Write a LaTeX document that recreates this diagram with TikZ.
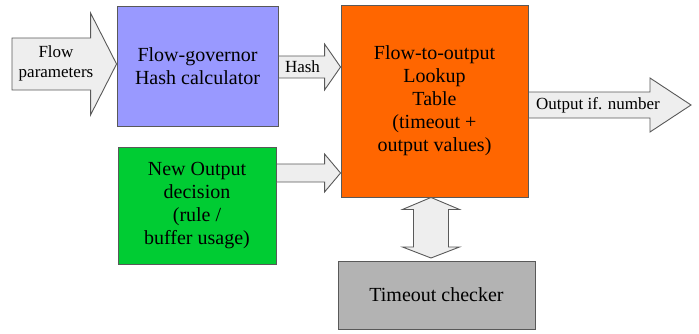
\documentclass[tikz,border=0pt]{standalone}
\usepackage{fontspec}
\setmainfont{Liberation Serif}
\usetikzlibrary{calc}
\definecolor{cblue}{HTML}{9999FF}
\definecolor{corange}{HTML}{FF6600}
\definecolor{cgreen}{HTML}{00CC33}
\definecolor{cgray}{HTML}{B3B3B3}
\definecolor{carrow}{HTML}{EEEEEE}
\definecolor{cline}{HTML}{595959}
\tikzset{
  blockbox/.style={draw=cline, line width=0.9pt, align=center, inner sep=0pt,
    font=\fontsize{20}{23}\selectfont},
  barrow/.style={draw=cline, line width=0.9pt, fill=carrow, line join=miter},
  alabel/.style={font=\fontsize{17}{20}\selectfont, align=center, inner sep=0pt}
}
\begin{document}
\begin{tikzpicture}[x=1pt,y=1pt]
\useasboundingbox (0,0) rectangle (699,333);
% boxes (image y flipped: Y = 333 - y)
\node[blockbox, fill=cblue, minimum width=161pt, minimum height=120pt] (blue) at (197.5,267) {Flow-governor\\Hash calculator};
\node[blockbox, fill=corange, minimum width=187pt, minimum height=192pt] (orange) at (434.5,232) {Flow-to-output\\Lookup\\Table\\(timeout +\\output values)};
\node[blockbox, fill=cgreen, minimum width=158pt, minimum height=117pt] (green) at (197,127.5) {New Output\\decision\\(rule /\\buffer usage)};
\node[blockbox, fill=cgray, minimum width=197pt, minimum height=68pt] (gray) at (436.5,38) {Timeout checker};
% flow parameters arrow
\coordinate (fp0) at (12,269);
\path (blue.west |- fp0) coordinate (fp1);
\draw[barrow] ($(fp0)+(0,26)$) -- ($(fp1)+(-26,26)$) -- ($(fp1)+(-26,51)$) -- (fp1)
  -- ($(fp1)+(-26,-51)$) -- ($(fp1)+(-26,-26)$) -- ($(fp0)+(0,-26)$) -- cycle;
\node[alabel] (fplabel) at (56,270) {Flow\\parameters};
% hash arrow
\path (blue.east |- 0,266) coordinate (h0);
\path (orange.west |- 0,266) coordinate (h1);
\draw[barrow] ($(h0)+(0,11)$) -- ($(h1)+(-16,11)$) -- ($(h1)+(-16,23)$) -- (h1)
  -- ($(h1)+(-16,-23)$) -- ($(h1)+(-16,-11)$) -- ($(h0)+(0,-11)$) -- cycle;
\node[alabel] (hlabel) at ($(h0)!0.5!(h1)+(-7,0)$) {Hash};
% green arrow
\path (green.east |- 0,160) coordinate (g0);
\path (orange.west |- 0,160) coordinate (g1);
\draw[barrow] ($(g0)+(0,9)$) -- ($(g1)+(-16,9)$) -- ($(g1)+(-16,19)$) -- (g1)
  -- ($(g1)+(-16,-19)$) -- ($(g1)+(-16,-9)$) -- ($(g0)+(0,-9)$) -- cycle;
% output arrow
\path (orange.east |- 0,228) coordinate (o0);
\coordinate (o1) at (691,228);
\draw[barrow] ($(o0)+(0,13)$) -- ($(o1)+(-41,13)$) -- ($(o1)+(-41,27)$) -- (o1)
  -- ($(o1)+(-41,-27)$) -- ($(o1)+(-41,-13)$) -- ($(o0)+(0,-13)$) -- cycle;
\node[alabel] (olabel) at (598,228) {Output if. number};
% double arrow
\path (431,0 |- orange.south) coordinate (d0);
\coordinate (d1) at (431,75);
\draw[barrow] (d0) -- ($(d0)+(28.5,-12)$) -- ($(d0)+(17.5,-12)$) -- ($(d1)+(17.5,11)$)
  -- ($(d1)+(28.5,11)$) -- (d1) -- ($(d1)+(-28.5,11)$) -- ($(d1)+(-17.5,11)$)
  -- ($(d0)+(-17.5,-12)$) -- ($(d0)+(-28.5,-12)$) -- cycle;
\end{tikzpicture}
\end{document}
